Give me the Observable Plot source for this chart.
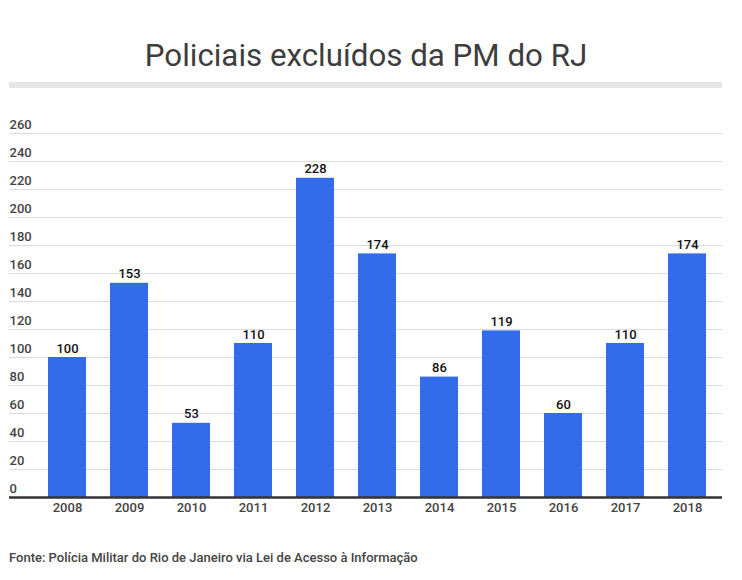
<!DOCTYPE html>
<html>
<head>
<meta charset="utf-8">
<script src="https://cdn.jsdelivr.net/npm/d3@7"></script>
<script src="https://cdn.jsdelivr.net/npm/@observablehq/plot@0.6"></script>
<style>
  html, body { margin: 0; padding: 0; background: #fff; }
  body { width: 742px; height: 580px; position: relative; font-family: Roboto, sans-serif; overflow: hidden; }
  #title { position: absolute; left: 0; width: 732px; top: 36px; text-align: center; font-size: 31.3px; font-weight: 400; color: #3d3d3d; line-height: 40px; }
  #rule { position: absolute; left: 9px; width: 713px; top: 82px; height: 6px; background: #e6e6e6; }
  #chart { position: absolute; left: 0; top: 110px; }
  #foot { position: absolute; left: 9px; top: 550px; font-size: 13px; font-weight: 500; color: #444; line-height: 16px; }
</style>
</head>
<body>
<div id="title">Policiais excluídos da PM do RJ</div>
<div id="rule"></div>
<div id="chart"></div>
<div id="foot">Fonte: Polícia Militar do Rio de Janeiro via Lei de Acesso à Informação</div>
<script>
const years = ["2008","2009","2010","2011","2012","2013","2014","2015","2016","2017","2018"];
const values = [100, 153, 53, 110, 228, 174, 86, 119, 60, 110, 174];
const yTicks = [0, 20, 40, 60, 80, 100, 120, 140, 160, 180, 200, 220, 240, 260];

const data = years.map((y, i) => ({year: y, value: values[i]}));

const chart = Plot.plot({
  width: 742,
  height: 420,
  marginLeft: 9,
  marginRight: 20,
  marginTop: 23,
  marginBottom: 33,
  style: {fontFamily: "Roboto, sans-serif", background: "transparent"},
  x: {domain: years, axis: null, paddingInner: 0.387, paddingOuter: 0.4435, align: 0.709},
  y: {domain: [0, 260], axis: null},
  marks: [
    Plot.ruleY(yTicks.filter(d => d > 0), {stroke: "#dcdcdc", strokeWidth: 1}),
    Plot.text(yTicks, {y: d => d, text: d => String(d), frameAnchor: "left", textAnchor: "start", dy: -9, fontSize: 13, fontWeight: 500, fill: "#444"}),
    Plot.barY(data, {x: "year", y: "value", fill: "#336ceb"}),
    Plot.ruleY([0], {stroke: "#333", strokeWidth: 2.5}),
    Plot.text(data, {x: "year", y: "value", text: d => String(d.value), dy: -9, fontSize: 13, fontWeight: 500, fill: "#111"}),
    Plot.text(years, {x: d => d, text: d => d, frameAnchor: "bottom", dy: 14.5, fontSize: 13, fontWeight: 500, fill: "#444"})
  ]
});
document.getElementById("chart").appendChild(chart);
</script>
</body>
</html>
